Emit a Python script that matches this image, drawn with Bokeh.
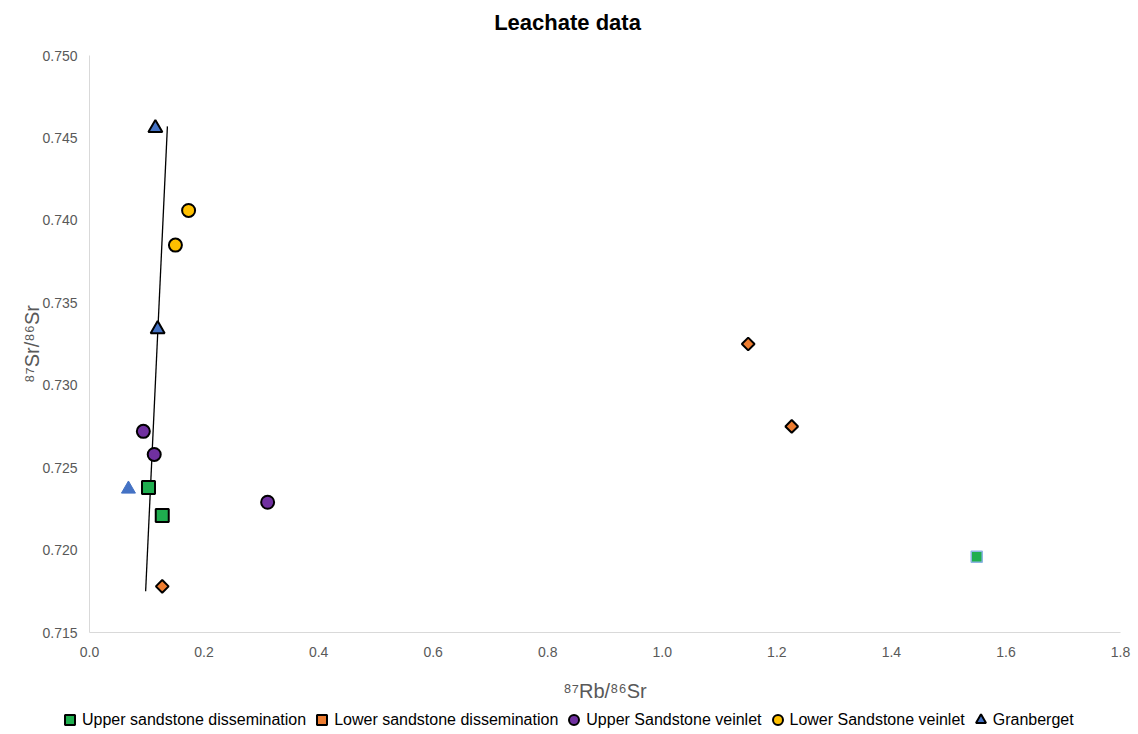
import math
from bokeh.plotting import figure
from bokeh.models import (Legend, LegendItem, FixedTicker, CustomJSTickFormatter,
                          Range1d, Label, LinearAxis)
from bokeh.embed import file_html
from bokeh.resources import INLINE

# ---------------- data ----------------
upper_diss_x = [0.103, 0.127]
upper_diss_y = [0.7238, 0.7221]
lower_diss_x = [0.127, 1.150, 1.226]
lower_diss_y = [0.7178, 0.7325, 0.7275]
upper_vein_x = [0.094, 0.113, 0.311]
upper_vein_y = [0.7272, 0.7258, 0.7229]
lower_vein_x = [0.173, 0.150]
lower_vein_y = [0.7406, 0.7385]
granberget_x = [0.115, 0.119]
granberget_y = [0.7456, 0.7334]
extra_tri_x = [0.068]
extra_tri_y = [0.7237]
extra_sq_x = [1.549]
extra_sq_y = [0.7196]
trend_x = [0.098, 0.136]
trend_y = [0.7175, 0.7457]

x_ticks = [0.0, 0.2, 0.4, 0.6, 0.8, 1.0, 1.2, 1.4, 1.6, 1.8]
y_ticks = [0.715, 0.720, 0.725, 0.730, 0.735, 0.740, 0.745, 0.750]
title_text = "Leachate data"
x_label = "⁸⁷Rb/⁸⁶Sr"
y_label = "⁸⁷Sr/⁸⁶Sr"

FONT = "Liberation Sans"
GREY = "#595959"

# ---------------- layout (pixels) ----------------
W, H = 1136, 732
PX_L, PX_R = 89, 1120      # pixel columns of x = 0 and x = 1.8
PY_T, PY_B = 55, 632       # pixel rows of y = 0.750 and y = 0.715
X0, X1 = x_ticks[0], x_ticks[-1]
Y0, Y1 = y_ticks[0], y_ticks[-1]
sx = (X1 - X0) / (PX_R - PX_L)
sy = (Y1 - Y0) / (PY_B - PY_T)
x_range = Range1d(X0 - PX_L * sx, X1 + (W - PX_R) * sx)
y_range = Range1d(Y0 - (H - PY_B) * sy, Y1 + PY_T * sy)

p = figure(width=W, height=H, output_backend="svg", toolbar_location=None,
           x_range=x_range, y_range=y_range,
           x_axis_type=None, y_axis_type=None,
           min_border=0, min_border_left=0, min_border_right=0,
           min_border_top=0, min_border_bottom=0)
p.outline_line_color = None
p.grid.visible = False

xaxis = LinearAxis(fixed_location=Y0, bounds=(X0, X1),
                   ticker=FixedTicker(ticks=x_ticks),
                   formatter=CustomJSTickFormatter(code="return tick.toFixed(1);"),
                   axis_label=x_label)
yaxis = LinearAxis(fixed_location=X0, bounds=(Y0, Y1),
                   ticker=FixedTicker(ticks=y_ticks),
                   formatter=CustomJSTickFormatter(code="return tick.toFixed(3);"),
                   axis_label=y_label)
for ax in (xaxis, yaxis):
    ax.axis_line_color = "#d9d9d9"
    ax.axis_line_width = 1
    ax.major_tick_line_color = None
    ax.minor_tick_line_color = None
    ax.major_label_text_font = FONT
    ax.major_label_text_font_size = "14px"
    ax.major_label_text_color = GREY
    ax.axis_label_text_font = FONT
    ax.axis_label_text_font_size = "20px"
    ax.axis_label_text_font_style = "normal"
    ax.axis_label_text_color = GREY
xaxis.major_label_standoff = 8
yaxis.major_label_standoff = 6
xaxis.axis_label_standoff = 20
yaxis.axis_label_standoff = -4
p.add_layout(xaxis, "below")
p.add_layout(yaxis, "left")

# title
p.add_layout(Label(x=567, y=H - 22, x_units="screen", y_units="screen",
                   text=title_text, text_font=FONT, text_font_size="22px",
                   text_font_style="bold", text_color="black",
                   text_align="center", text_baseline="middle"))

# trend line
p.line(trend_x, trend_y, line_color="black", line_width=1.3)

r1 = p.scatter(upper_diss_x, upper_diss_y, marker="square", size=13,
               fill_color="#1FAE4F", line_color="black", line_width=2)
r2 = p.scatter(lower_diss_x, lower_diss_y, marker="square", size=9,
               angle=math.pi / 4,
               fill_color="#ED7D31", line_color="black", line_width=2)
r3 = p.scatter(upper_vein_x, upper_vein_y, marker="circle", size=13,
               fill_color="#7030A0", line_color="black", line_width=2)
r4 = p.scatter(lower_vein_x, lower_vein_y, marker="circle", size=13,
               fill_color="#FFC000", line_color="black", line_width=2)
r5 = p.scatter(granberget_x, granberget_y, marker="triangle", size=14,
               fill_color="#4472C4", line_color="black", line_width=2)
p.scatter(extra_tri_x, extra_tri_y, marker="triangle", size=14,
          fill_color="#4472C4", line_color="#4472C4", line_width=1)
p.scatter(extra_sq_x, extra_sq_y, marker="square", size=11,
          fill_color="#1FAE4F", line_color="#8EB4E3", line_width=1.5)

legend = Legend(items=[
    LegendItem(label="Upper sandstone dissemination", renderers=[r1]),
    LegendItem(label="Lower sandstone dissemination", renderers=[r2]),
    LegendItem(label="Upper Sandstone veinlet", renderers=[r3]),
    LegendItem(label="Lower Sandstone veinlet", renderers=[r4]),
    LegendItem(label="Granberget", renderers=[r5]),
], orientation="horizontal", location=(57, 0))
legend.label_text_font = FONT
legend.label_text_font_size = "16px"
legend.label_text_color = "black"
legend.glyph_width = 25
legend.glyph_height = 25
legend.label_standoff = -4
legend.spacing = 3
legend.padding = 0
legend.margin = 0
legend.border_line_color = None
legend.background_fill_alpha = 0
p.add_layout(legend, "center")

open("out.html", "w").write(file_html(p, INLINE))
